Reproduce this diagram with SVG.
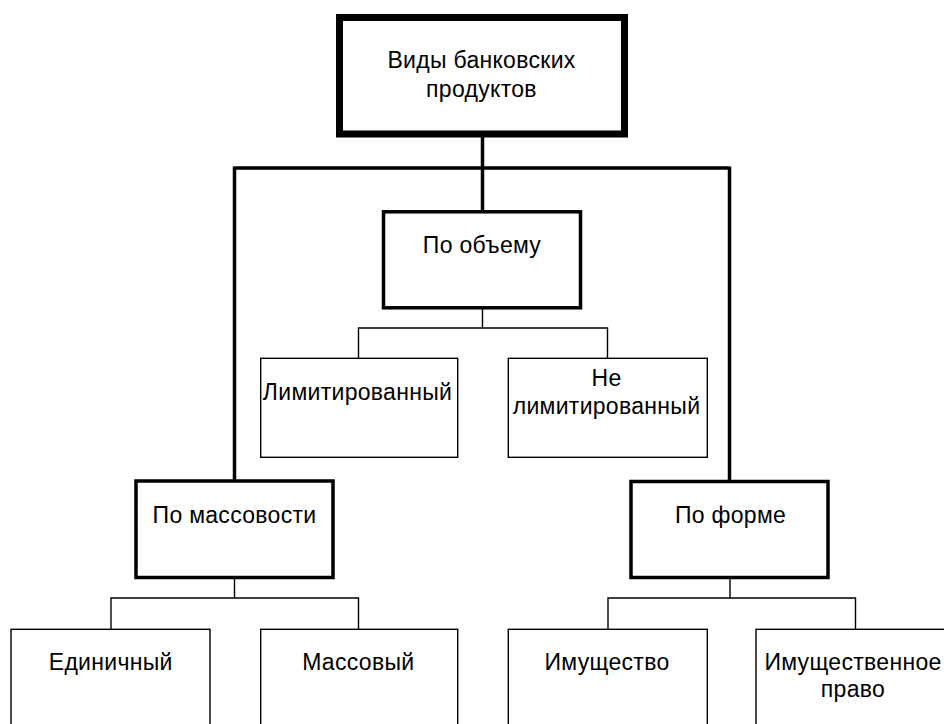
<svg xmlns="http://www.w3.org/2000/svg" width="944" height="724" viewBox="0 0 944 724">
<style>
.thick{fill:#fff;stroke:#000;stroke-width:3.5}
.thin{fill:#fff;stroke:#000;stroke-width:1.4}
.top{fill:#fff;stroke:#000;stroke-width:7}
.lt{fill:none;stroke:#000;stroke-width:3.5}
.ln{fill:none;stroke:#000;stroke-width:1.4}
text{font-family:"Liberation Sans",Arial,sans-serif;font-size:23px;letter-spacing:0.3px;fill:#000;text-anchor:middle}
</style>
<rect width="944" height="724" fill="#fff"/>
<g id="connectors">
<path class="lt" d="M482.5 137 V210 M234.5 168 H729.5 M234.5 166.5 V480 M729.5 166.5 V480"/>
<path class="ln" d="M482.5 309 V328 M358.5 358 V328 H607.5 V358"/>
<path class="ln" d="M234.5 579 V598 M111 629 V598 H358.5 V629"/>
<path class="ln" d="M730 579 V598 M608 629 V598 H855.5 V629"/>
</g>
<g id="root">
<rect class="top" x="339.5" y="17.5" width="285" height="116.5"/>
<text x="481.5" y="68">Виды банковских</text>
<text x="481.5" y="97">продуктов</text>
</g>
<g id="po-obemu">
<rect class="thick" x="383.5" y="211.8" width="197" height="96"/>
<text x="482" y="253">По объему</text>
</g>
<g id="limit">
<rect class="thin" x="260.7" y="358.3" width="197" height="99"/>
<text x="357.5" y="400">Лимитированный</text>
</g>
<g id="nelimit">
<rect class="thin" x="508.3" y="358.3" width="199" height="99"/>
<text x="606.5" y="386">Не</text>
<text x="606.5" y="414">лимитированный</text>
</g>
<g id="po-massovosti">
<rect class="thick" x="136" y="481" width="197" height="96.5"/>
<text x="234.5" y="523">По массовости</text>
</g>
<g id="po-forme">
<rect class="thick" x="631" y="481.5" width="197" height="96"/>
<text x="730.5" y="523">По форме</text>
</g>
<g id="edinichny">
<rect class="thin" x="11" y="629.3" width="199" height="120"/>
<text x="110.7" y="669.5">Единичный</text>
</g>
<g id="massovy">
<rect class="thin" x="260.7" y="629.3" width="197" height="120"/>
<text x="358.3" y="669.5">Массовый</text>
</g>
<g id="imushchestvo">
<rect class="thin" x="508.3" y="629.3" width="199" height="120"/>
<text x="607" y="669.5">Имущество</text>
</g>
<g id="imushchestvennoe-pravo">
<rect class="thin" x="756" y="629.3" width="199" height="120"/>
<text x="853" y="669.5">Имущественное</text>
<text x="853" y="697">право</text>
</g>
</svg>
